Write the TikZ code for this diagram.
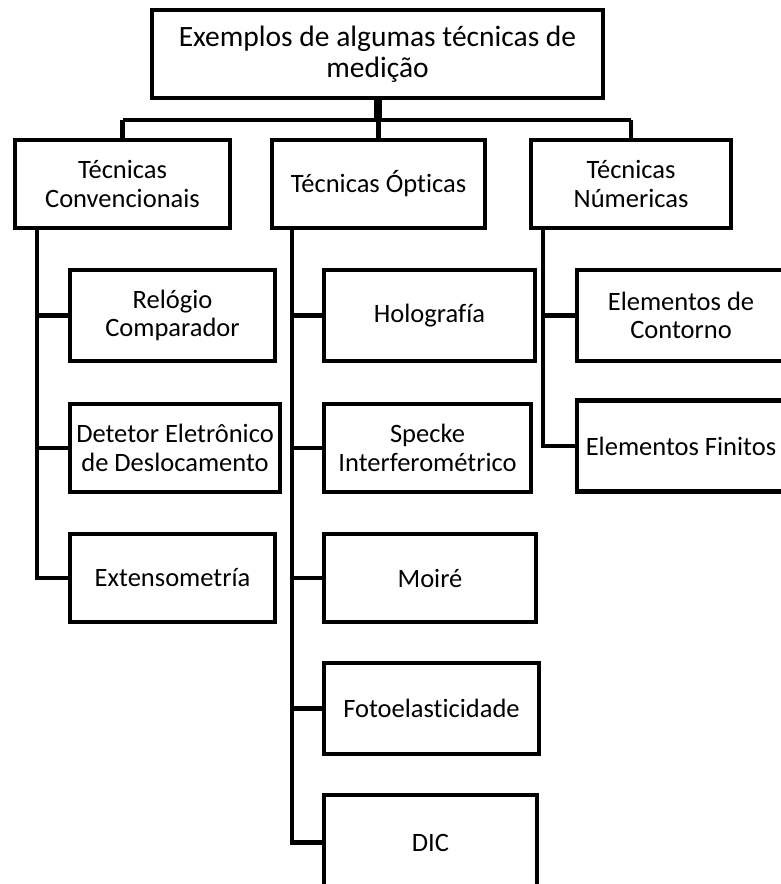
\documentclass[tikz,border=0pt]{standalone}
\usepackage{fontspec}
\setmainfont{Carlito}[Ligatures={NoCommon}]
\begin{document}
\begin{tikzpicture}[x=1pt,y=-1pt,
  box/.style={draw, line width=4.5pt, rectangle, align=center, inner sep=0pt,
    font=\fontsize{26.5}{28.5}\selectfont},
  link/.style={draw, line width=4.5pt},
  stem/.style={draw, line width=8pt}]
\clip (0,0) rectangle (781,884);

% root
\node[box, minimum width=451pt, minimum height=88pt,
  font=\fontsize{29.5}{31}\selectfont] (root) at (377.5,54)
  {Exemplos de algumas técnicas de\\medição};

% second level
\node[box, minimum width=215pt, minimum height=88pt] (conv) at (122.5,184) {Técnicas\\Convencionais};
\node[box, minimum width=213pt, minimum height=88pt] (opt) at (378.5,184) {Técnicas Ópticas};
\node[box, minimum width=200pt, minimum height=88pt] (num) at (631,184) {Técnicas\\Númericas};

% conventional techniques
\node[box, minimum width=205pt, minimum height=91pt] (rel) at (172.5,315.5) {Relógio\\Comparador};
\node[box, minimum width=210pt, minimum height=88pt] (det) at (175,448) {Detetor Eletrônico\\de Deslocamento};
\node[box, minimum width=205pt, minimum height=88pt] (ext) at (172.5,578) {Extensometría};

% optical techniques
\node[box, minimum width=211pt, minimum height=91pt] (hol) at (429.5,315.5) {Holografía};
\node[box, minimum width=207pt, minimum height=88pt] (spe) at (427.5,448) {Specke\\Interferométrico};
\node[box, minimum width=212pt, minimum height=88pt] (moi) at (430,578) {Moiré};
\node[box, minimum width=215pt, minimum height=91pt] (fot) at (431.5,708.5) {Fotoelasticidade};
\node[box, minimum width=213pt, minimum height=95pt] (dic) at (430.5,842.5) {DIC};

% numerical techniques
\node[box, minimum width=208pt, minimum height=91pt] (con) at (681,315.5) {Elementos de\\Contorno};
\node[box, minimum width=208pt, minimum height=91pt] (fin) at (681,446) {Elementos Finitos};

% bus under the root
\coordinate (bus) at (378,120);
\path[stem] (root.south) -- (root.south |- bus);
\path[link] (conv.north |- bus) -- (num.north |- bus);
\path[link] (conv.north |- bus) -- (conv.north);
\path[link] (opt.north |- bus) -- (opt.north);
\path[link] (num.north |- bus) -- (num.north);

% trunks
\coordinate (ct) at (37,227);
\coordinate (ot) at (292,227);
\coordinate (nt) at (543,227);

\path[link, line join=miter] (ct) |- (ext.west);
\path[link] (ct |- rel.west) -- (rel.west);
\path[link] (ct |- det.west) -- (det.west);

\path[link, line join=miter] (ot) |- (dic.west);
\path[link] (ot |- hol.west) -- (hol.west);
\path[link] (ot |- spe.west) -- (spe.west);
\path[link] (ot |- moi.west) -- (moi.west);
\path[link] (ot |- fot.west) -- (fot.west);

\path[link, line join=miter] (nt) |- (fin.west);
\path[link] (nt |- con.west) -- (con.west);
\end{tikzpicture}
\end{document}
